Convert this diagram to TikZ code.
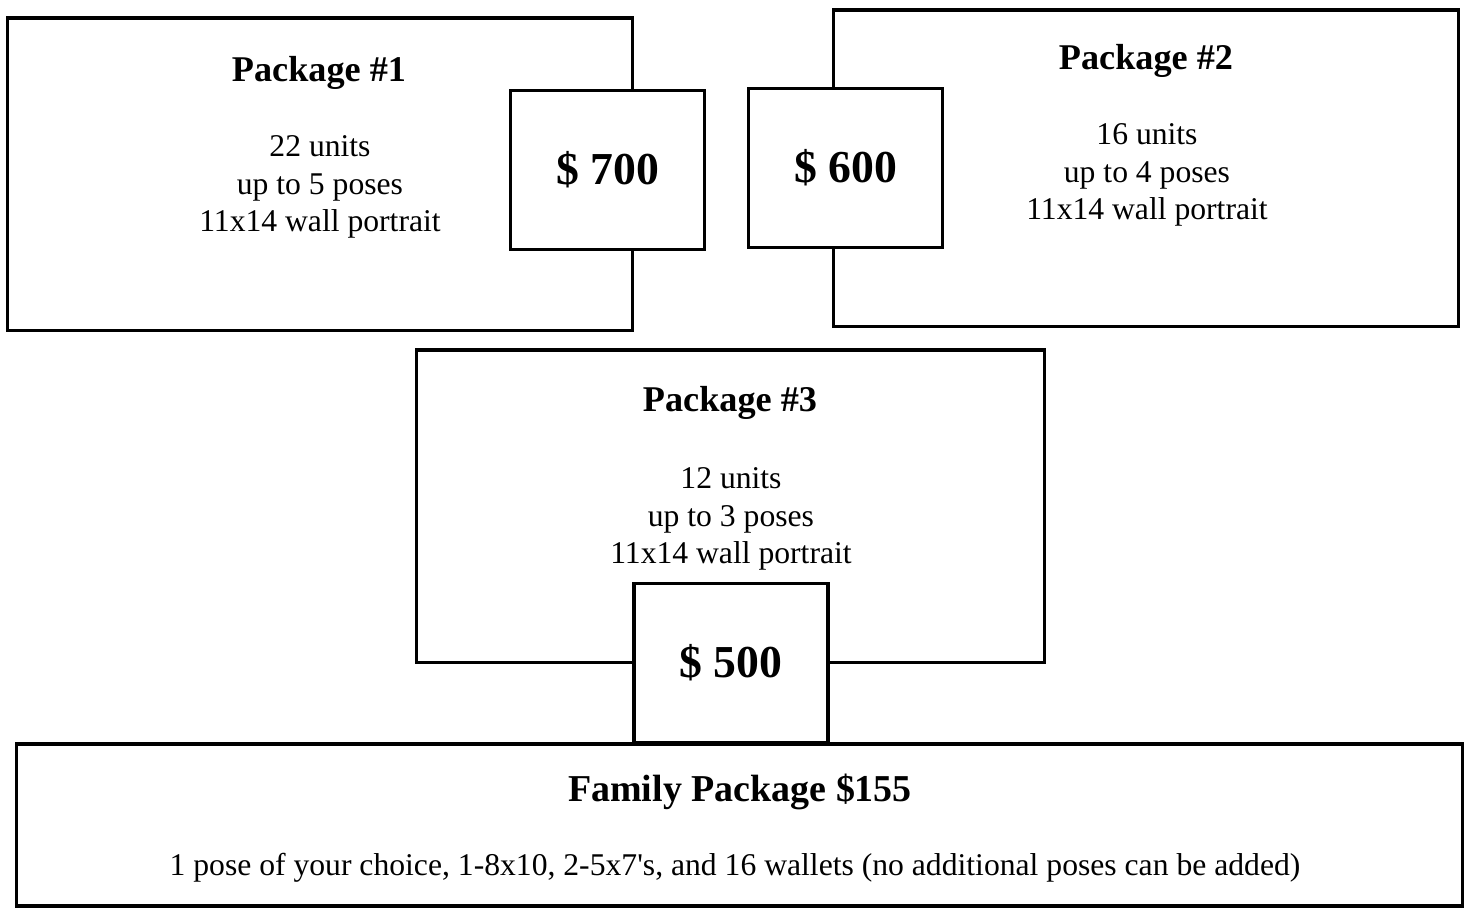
\documentclass[tikz,border=0pt]{standalone}
\usepackage{fontspec}
\setmainfont{Liberation Serif}
\usepackage{tikz}
\usetikzlibrary{positioning}

\tikzset{
  pkgbox/.style={draw,line width=0.9pt,fill=white,inner sep=0pt},
  pricebox/.style={draw,line width=0.9pt,fill=white,inner sep=0pt,minimum width=1.94cm,minimum height=1.59cm,font=\fontsize{13}{15}\selectfont\bfseries},
  pkgtitle/.style={font=\fontsize{10.3}{12}\selectfont\bfseries},
  pkgtext/.style={align=center,font=\fontsize{9}{10.6}\selectfont}
}

\begin{document}
\begin{tikzpicture}[x=0.01cm,y=-0.01cm]
\useasboundingbox (0,0) rectangle (1465,908);

% Package boxes
\node[pkgbox,minimum width=6.24cm,minimum height=3.12cm] (pkgA) at (320,174) {};
\node[pkgbox,minimum width=6.24cm,minimum height=3.16cm] (pkgB) at (1146,168) {};
\node[pkgbox,minimum width=6.27cm,minimum height=3.12cm] (pkgC) at (730.5,506) {};
\node[pkgbox,minimum width=14.45cm,minimum height=1.62cm] (family) at (739.5,825) {};

% Price tags on top
\node[pricebox] (priceA) at (607.5,170) {\raisebox{-1pt}{\$ 700}};
\node[pricebox] (priceB) at (845.5,168) {\raisebox{-1pt}{\$ 600}};
\node[pricebox] (priceC) at (731,663) {\raisebox{-1pt}{\$ 500}};

% Texts
\node[pkgtitle] (titleA) at (319,73) {Package \#1};
\node[pkgtext] (textA) at (320,187) {22 units\\up to 5 poses\\11x14 wall portrait};

\node[pkgtitle] (titleB) at (1146,61) {Package \#2};
\node[pkgtext] (textB) at (1147,175) {16 units\\up to 4 poses\\11x14 wall portrait};

\node[pkgtitle] (titleC) at (730,403) {Package \#3};
\node[pkgtext] (textC) at (731,519) {12 units\\up to 3 poses\\11x14 wall portrait};

\node[pkgtitle,font=\fontsize{10.8}{13}\selectfont\bfseries] (titleF) at (740,792) {Family Package \$155};
\node[pkgtext] (textF) at (735,868) {1 pose of your choice, 1-8x10, 2-5x7\textquotesingle s, and 16 wallets (no additional poses can be added)};
\end{tikzpicture}
\end{document}
